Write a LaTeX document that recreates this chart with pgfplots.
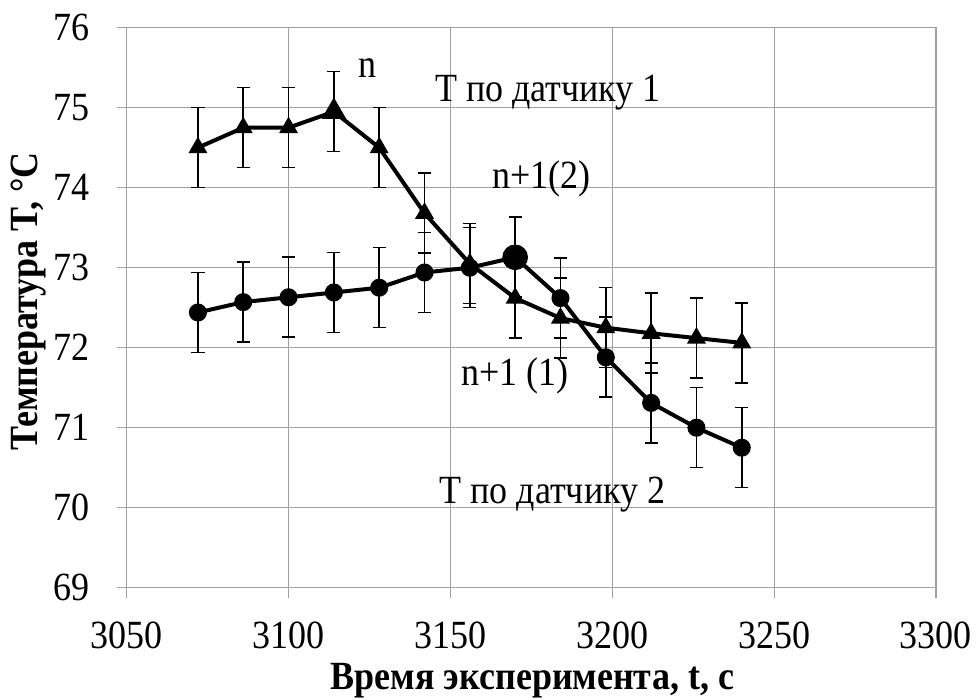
\documentclass[border=0pt]{standalone}
\usepackage{fontspec}
\setmainfont{Liberation Serif}[FakeStretch=0.9]
\usepackage{pgfplots}
\pgfplotsset{compat=1.18}
\definecolor{gridgray}{HTML}{A0A0A0}
\begin{document}
\begin{tikzpicture}
\useasboundingbox (-63.35pt,-56.15pt) rectangle (424.65pt,293.85pt);
\begin{axis}[
  at={(0,0)}, anchor=south west,
  scale only axis, width=404.65pt, height=280pt,
  xmin=3050, xmax=3300, ymin=69, ymax=76,
  xtick={3050,3100,...,3300}, ytick={69,70,...,76},
  grid=major, grid style={gridgray, line width=0.6pt},
  axis line style={gridgray, line width=0.6pt},
  tick style={gridgray, line width=0.6pt},
  tick align=outside, major tick length=5pt,
  xtick pos=left, ytick pos=left,
  /pgf/number format/assume math mode=true,
  /pgf/number format/1000 sep={},
  tick label style={font=\fontsize{20}{23}\selectfont, black},
  xticklabel style={yshift=-8.6pt},
  yticklabel style={xshift=-10.3pt},
  xlabel={Время эксперимента, t, с},
  ylabel={Температура Т, °С},
  label style={font=\bfseries\fontsize{20}{23}\selectfont},
  xlabel style={at={(axis description cs:0.5014,-0.181)}, anchor=base},
  ylabel style={at={(axis description cs:-0.1108,0.511)}, anchor=base},
  clip=false,
]
\addplot+[black, line width=2pt, mark=*, mark size=3.5pt, mark options={solid, fill=black},
  error bars/.cd, y dir=both, y fixed=0.5,
  error bar style={line width=0.8pt, black},
  error mark options={rotate=90, mark size=3.3pt, line width=0.8pt, black}]
  table {
x y
3072 72.44
3086 72.57
3100 72.63
3114 72.69
3128 72.75
3142 72.94
3156 73.00
3170 73.13
3184 72.62
3198 71.88
3212 71.31
3226 71.00
3240 70.75
};
\addplot+[black, line width=2pt, mark=triangle*, mark size=3.5pt, mark options={solid, fill=black},
  error bars/.cd, y dir=both, y fixed=0.5,
  error bar style={line width=0.8pt, black},
  error mark options={rotate=90, mark size=3.3pt, line width=0.8pt, black}]
  table {
x y
3072 74.50
3086 74.75
3100 74.75
3114 74.95
3128 74.50
3142 73.68
3156 73.05
3170 72.62
3184 72.37
3198 72.25
3212 72.18
3226 72.12
3240 72.06
};
\addplot[only marks, black, mark=triangle*, mark size=6.7pt, mark options={fill=black}] coordinates {(3114,74.95)};
\addplot[only marks, black, mark=*, mark size=6.2pt, mark options={fill=black}] coordinates {(3170,73.13)};
\node[anchor=base, font=\fontsize{20}{23}\selectfont] at (axis cs:3124.5,75.38) {n};
\node[anchor=base, font=\fontsize{20}{23}\selectfont] at (axis cs:3180.1,75.075) {Т по датчику 1};
\node[anchor=base, font=\fontsize{20}{23}\selectfont] at (axis cs:3178.2,73.99) {n+1(2)};
\node[anchor=base, font=\fontsize{20}{23}\selectfont] at (axis cs:3170,71.53) {n+1 (1)};
\node[anchor=base, font=\fontsize{20}{23}\selectfont] at (axis cs:3181.5,70.055) {Т по датчику 2};
\end{axis}
\end{tikzpicture}
\end{document}
